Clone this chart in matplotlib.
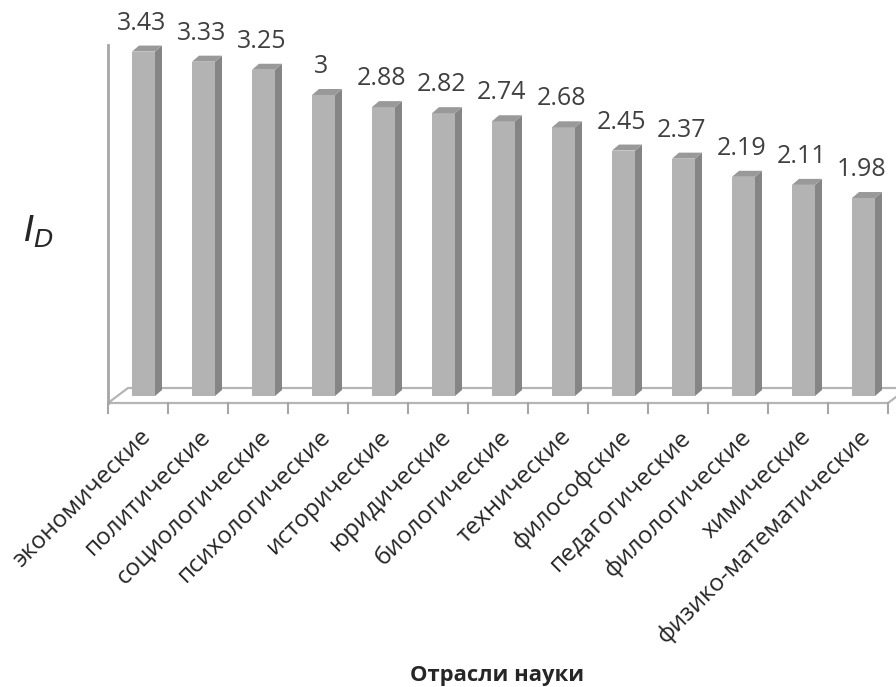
import matplotlib
matplotlib.use("Agg")
import matplotlib.pyplot as plt
from matplotlib.patches import Polygon, Rectangle

plt.rcParams['font.family'] = ['Open Sans', 'DejaVu Sans']

categories = ['экономические', 'политические', 'социологические', 'психологические',
              'исторические', 'юридические', 'биологические', 'технические',
              'философские', 'педагогические', 'филологические', 'химические',
              'физико-математические']
values = [3.43, 3.33, 3.25, 3.0, 2.88, 2.82, 2.74, 2.68, 2.45, 2.37, 2.19, 2.11, 1.98]
labels = ['3.43', '3.33', '3.25', '3', '2.88', '2.82', '2.74', '2.68', '2.45', '2.37', '2.19', '2.11', '1.98']

W, H = 896, 687
fig = plt.figure(figsize=(W / 100, H / 100), dpi=100)

# axes placed in pixel terms: x from 108 to 888, y from 10 to 420 (from top)
ax_left, ax_right, ax_top, ax_bot = 108, 888, 10, 420
zero_px, px_per_unit = 398, 101.0
ax = fig.add_axes([ax_left / W, 1 - ax_bot / H, (ax_right - ax_left) / W, (ax_bot - ax_top) / H])
ax.set_xlim(-0.5, 12.5)
ax.set_ylim((zero_px - ax_bot) / px_per_unit, (zero_px - ax_top) / px_per_unit)
ax.axis('off')

px = 1 / 60.0            # one pixel in x data units
py = 1 / px_per_unit     # one pixel in y data units

front_c = '#b3b3b3'
side_c = '#858585'
top_c = '#999999'
line_c = '#b5b5b5'

# floor
depth_x, depth_y = 20 * px, 15 * py
y_front = -5 * py
floor = Polygon([(-0.5, y_front), (12.5, y_front), (12.5 + depth_x, y_front + depth_y),
                 (-0.5 + depth_x, y_front + depth_y)], closed=True,
                facecolor='white', edgecolor=line_c, linewidth=1.6, clip_on=False, zorder=1)
ax.add_patch(floor)

# left axis line
ax.plot([-0.5, -0.5], [y_front, (zero_px - 45) * py], color='#a6a6a6', lw=2, clip_on=False, zorder=2)

# ticks under the floor
for k in range(len(categories) + 1):
    ax.plot([k - 0.5, k - 0.5], [y_front, y_front - 10 * py], color='#a6a6a6', lw=1.5,
            clip_on=False, zorder=2)

# bars with a fake 3d look
bw = 23 * px
dx, dy = 7 * px, 6 * py
base = 2 * py
for i, v in enumerate(values):
    x0 = i - 0.1
    ax.add_patch(Rectangle((x0, base), bw, v - base, facecolor=front_c, edgecolor='none', zorder=3))
    ax.add_patch(Polygon([(x0 + bw, base), (x0 + bw + dx, base + dy), (x0 + bw + dx, v + dy),
                          (x0 + bw, v)], closed=True, facecolor=side_c, edgecolor='none', zorder=3))
    ax.add_patch(Polygon([(x0, v), (x0 + bw, v), (x0 + bw + dx, v + dy), (x0 + dx, v + dy)],
                         closed=True, facecolor=top_c, edgecolor='none', zorder=3))
    ax.text(x0 + bw / 2 - 2 * px, v + dy + 10 * py, labels[i], ha='center', va='bottom',
            fontsize=18, color='#404040', zorder=4)
    ax.text(i + 0.02, (zero_px - 425) * py, categories[i], rotation=45, rotation_mode='anchor',
            ha='right', va='top', fontsize=17.5, color='#262626')

fig.text(38 / W, 1 - 232 / H, r'$I_D$', fontsize=26, ha='center', va='center', color='#262626',
         math_fontfamily='dejavusans')
fig.text(497 / W, 1 - 676 / H, 'Отрасли науки', fontsize=15.8, fontweight='bold',
         ha='center', va='center', color='#262626')

fig.savefig('out.png', dpi=100)
